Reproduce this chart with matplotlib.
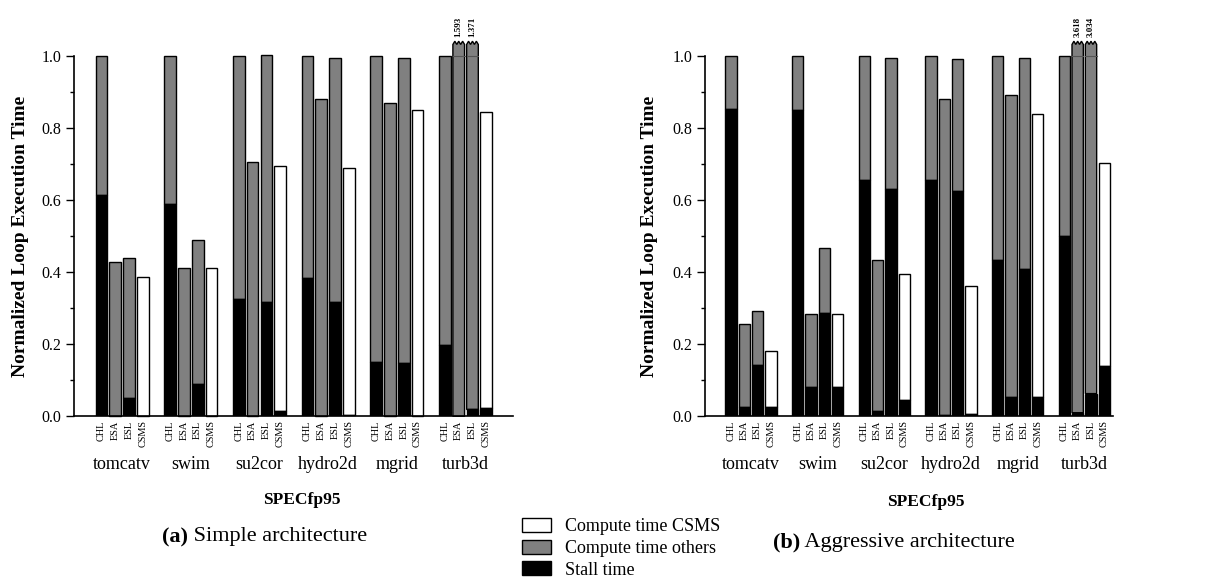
import matplotlib
matplotlib.use("Agg")
import matplotlib.pyplot as plt
import numpy as np
from matplotlib.patches import Patch, Polygon

plt.rcParams['font.family'] = ['Liberation Serif', 'DejaVu Serif']

benchmarks = ["tomcatv", "swim", "su2cor", "hydro2d", "mgrid", "turb3d"]
schemes = ["CHL", "ESA", "ESL", "CSMS"]

# Simple architecture: total normalized time and stall part, per scheme (rows: benchmarks)
simple_total = [
    [1.0, 0.427, 0.438, 0.388],
    [1.0, 0.411, 0.490, 0.411],
    [1.0, 0.707, 1.003, 0.695],
    [1.0, 0.880, 0.994, 0.688],
    [1.0, 0.869, 0.994, 0.851],
    [1.0, 1.593, 1.371, 0.844],
]
simple_stall = [
    [0.613, 0.0, 0.050, 0.0],
    [0.590, 0.0, 0.089, 0.0],
    [0.326, 0.0, 0.318, 0.014],
    [0.383, 0.0, 0.316, 0.003],
    [0.152, 0.0, 0.147, 0.0],
    [0.198, 0.0, 0.019, 0.023],
]

# Aggressive architecture
aggr_total = [
    [1.0, 0.256, 0.293, 0.181],
    [1.0, 0.284, 0.467, 0.284],
    [1.0, 0.435, 0.994, 0.396],
    [1.0, 0.880, 0.993, 0.361],
    [1.0, 0.891, 0.994, 0.838],
    [1.0, 3.618, 3.034, 0.704],
]
aggr_stall = [
    [0.854, 0.025, 0.143, 0.025],
    [0.850, 0.082, 0.287, 0.082],
    [0.657, 0.016, 0.630, 0.044],
    [0.655, 0.003, 0.624, 0.007],
    [0.433, 0.054, 0.410, 0.054],
    [0.501, 0.010, 0.063, 0.139],
]

legend_labels = ["Compute time CSMS", "Compute time others", "Stall time"]

W, H = 1217, 588
fig = plt.figure(figsize=(W / 100, H / 100), dpi=100)

GRAY = "#808080"
offsets = [-0.3, -0.1, 0.1, 0.3]
BW = 0.17
CAP = 1.032
BREAK_LIMIT = 1.05


def px2fig(x, y):
    return x / W, 1 - y / H


def draw_panel(ax, total, stall, xlim, ylabel_x):
    ax.set_xlim(*xlim)
    ax.set_ylim(0, 1.0)
    pos, labs = [], []
    for g, bench in enumerate(benchmarks):
        for s, sch in enumerate(schemes):
            x = g + offsets[s]
            pos.append(x)
            labs.append(sch)
            tot = total[g][s]
            st = stall[g][s]
            comp_color = "white" if sch == "CSMS" else GRAY
            if tot > BREAK_LIMIT:
                # broken bar with a zigzag top
                amp = 0.009
                n = 6
                zx = np.linspace(x + BW / 2, x - BW / 2, n + 1)
                zy = [CAP + (amp if k % 2 == 1 else 0) for k in range(n + 1)]
                verts = [(x - BW / 2, st), (x + BW / 2, st)] + list(zip(zx, zy))
                poly = Polygon(verts, closed=True, facecolor=comp_color,
                               edgecolor="black", linewidth=1.0, clip_on=False, zorder=2)
                ax.add_patch(poly)
                if st > 0:
                    ax.bar(x, st, width=BW, color="black", edgecolor="black",
                           linewidth=1.0, zorder=3)
                ax.plot([x - BW / 2, x + BW / 2], [1.0, 1.0], color="#555555",
                        lw=0.8, zorder=4, clip_on=False)
                ax.text(x, CAP + 0.022, f"{tot:.3f}", rotation=90, ha="center",
                        va="bottom", fontsize=6.5, fontweight="bold", clip_on=False)
            else:
                ax.bar(x, tot - st, bottom=st, width=BW, color=comp_color,
                       edgecolor="black", linewidth=1.0, zorder=2, clip_on=False)
                if st > 0:
                    ax.bar(x, st, width=BW, color="black", edgecolor="black",
                           linewidth=1.0, zorder=3)
    ax.set_xticks(pos)
    ax.set_xticklabels(labs, rotation=90, fontsize=7.4)
    ax.tick_params(axis="x", length=0, pad=3)
    ax.set_yticks(np.arange(0, 1.01, 0.2))
    ax.set_yticks(np.arange(0.1, 1.0, 0.2), minor=True)
    ax.set_yticklabels([f"{v:.1f}" for v in np.arange(0, 1.01, 0.2)], fontsize=11.5)
    ax.tick_params(axis="y", which="major", direction="out", length=6, width=1.0, pad=3)
    ax.tick_params(axis="y", which="minor", direction="out", length=3, width=1.0)
    for sp in ["top", "right"]:
        ax.spines[sp].set_visible(False)
    ax.spines["left"].set_linewidth(1.2)
    ax.spines["bottom"].set_linewidth(1.2)
    ax.set_ylabel("Normalized Loop Execution Time", fontsize=14, fontweight="bold",
                  va="center")
    ax.yaxis.set_label_coords(ylabel_x, 0.5)
    for g, bench in enumerate(benchmarks):
        ax.text(g, -0.135, bench, transform=ax.get_xaxis_transform(), ha="center",
                va="center", fontsize=13)


y0, y1 = 416.3, 56.0
axL = fig.add_axes([74 / W, 1 - y0 / H, (513 - 74) / W, (y0 - y1) / H])
draw_panel(axL, simple_total, simple_stall, (-0.70, 5.69), -0.121)
axR = fig.add_axes([705 / W, 1 - y0 / H, (1113 - 705) / W, (y0 - y1) / H])
draw_panel(axR, aggr_total, aggr_stall, (-0.69, 5.43), -0.135)

# x-axis titles
fig.text(*px2fig(301.7, 500), "SPECfp95", ha="center", va="center",
         fontsize=12.5, fontweight="bold")
fig.text(*px2fig(925.8, 501.7), "SPECfp95", ha="center", va="center",
         fontsize=12.5, fontweight="bold")

# captions
fig.text(*px2fig(188, 537), "(a)", ha="right", va="center", fontsize=16, fontweight="bold")
fig.text(*px2fig(188, 537), " Simple architecture", ha="left", va="center", fontsize=16)
fig.text(*px2fig(800, 542), "(b)", ha="right", va="center", fontsize=16, fontweight="bold")
fig.text(*px2fig(800, 542), " Aggressive architecture", ha="left", va="center", fontsize=16)

handles = [Patch(facecolor="white", edgecolor="black", linewidth=1.0),
           Patch(facecolor=GRAY, edgecolor="black", linewidth=1.0),
           Patch(facecolor="black", edgecolor="black", linewidth=1.0)]
fig.legend(handles, legend_labels, loc="upper left",
           bbox_to_anchor=px2fig(522, 518), borderaxespad=0, borderpad=0,
           frameon=False, fontsize=13, handlelength=1.6, handleheight=0.8,
           handletextpad=0.8, labelspacing=0.25)

fig.savefig("out.png", dpi=100)
